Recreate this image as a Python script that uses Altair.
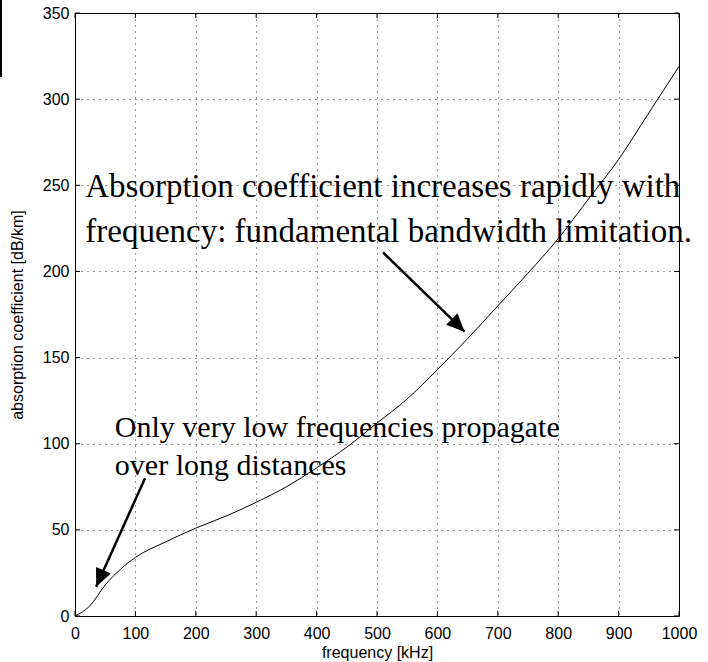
import altair as alt
import pandas as pd

# ---- data ----
freq = [0, 25, 50, 75, 100, 150, 200, 250, 300, 350, 400, 450, 500, 550,
        600, 650, 700, 750, 800, 850, 900, 950, 1000]
absorption = [0, 6, 18, 27, 34, 43, 51, 58, 66, 75, 86, 98, 112, 126,
              143, 161, 180, 199, 219, 242, 265, 292, 319]

x_ticks = [0, 100, 200, 300, 400, 500, 600, 700, 800, 900, 1000]
y_ticks = [0, 50, 100, 150, 200, 250, 300, 350]

note_text = ["Absorption coefficient increases rapidly with",
             "frequency: fundamental bandwidth limitation.",
             "Only very low frequencies propagate",
             "over long distances"]
note_x = [17, 17, 66, 66]
note_y = [243, 217, 104, 82]
note_size = [33, 33, 30, 30]

arrow_x0 = [116, 510]
arrow_y0 = [80, 211]
arrow_x1 = [35, 645]
arrow_y1 = [17, 165]
arrow_angle = [204, 135]

W, H = 604, 603

curve = pd.DataFrame({"f": freq, "a": absorption})
notes = pd.DataFrame({"t": note_text, "f": note_x, "a": note_y, "s": note_size})
arrows = pd.DataFrame({"f": arrow_x0, "a": arrow_y0, "f1": arrow_x1,
                       "a1": arrow_y1, "ang": arrow_angle})
heads_df = pd.DataFrame({"f": arrow_x1, "a": arrow_y1, "ang": arrow_angle})
xt = pd.DataFrame({"f": x_ticks})
yt = pd.DataFrame({"a": y_ticks})

xscale = alt.Scale(domain=[0, 1000], nice=False, zero=False)
yscale = alt.Scale(domain=[0, 350], nice=False, zero=False)

FONT = "Liberation Sans"
SERIF = "Liberation Serif"

x_axis = alt.Axis(values=x_ticks, format="d", grid=True, gridDash=[1, 5],
                  gridColor="#000", gridOpacity=0.8, gridWidth=1, tickSize=0,
                  labelPadding=9, labelFont=FONT, labelFontSize=16,
                  labelColor="black", labelFlush=False, labelOverlap=False,
                  labelBound=False, domain=False, title="frequency [kHz]",
                  titleFont=FONT, titleFontSize=16, titleFontWeight="normal",
                  titleColor="black", titleY=41, titleBaseline="alphabetic")
y_axis = alt.Axis(values=y_ticks, format="d", grid=True, gridDash=[1, 5],
                  gridColor="#000", gridOpacity=0.8, gridWidth=1, tickSize=0,
                  labelPadding=6, labelFont=FONT, labelFontSize=16,
                  labelColor="black", labelFlush=False, labelOverlap=False,
                  labelBound=False, labelBaseline="middle",
                  domain=False, title="absorption coefficient [dB/km]",
                  titleFont=FONT, titleFontSize=16, titleFontWeight="normal",
                  titleColor="black", titleX=-58, titleY=H / 2, titleAngle=270,
                  titleAlign="center", titleBaseline="middle")


def X(field="f"):
    return alt.X(f"{field}:Q", scale=xscale, axis=x_axis)


def Y(field="a"):
    return alt.Y(f"{field}:Q", scale=yscale, axis=y_axis)


line = alt.Chart(curve).mark_line(color="black", strokeWidth=1,
                                  interpolate="monotone").encode(x=X(), y=Y())

tick_bottom = alt.Chart(xt).mark_rule(color="black", strokeWidth=1).encode(
    x=X(), y=alt.value(H), y2=alt.value(H - 5))
tick_top = alt.Chart(xt).mark_rule(color="black", strokeWidth=1).encode(
    x=X(), y=alt.value(0), y2=alt.value(5))
tick_left = alt.Chart(yt).mark_rule(color="black", strokeWidth=1).encode(
    y=Y(), x=alt.value(0), x2=alt.value(5))
tick_right = alt.Chart(yt).mark_rule(color="black", strokeWidth=1).encode(
    y=Y(), x=alt.value(W), x2=alt.value(W - 5))

shafts = alt.Chart(arrows).mark_rule(color="black", strokeWidth=2.5).encode(
    x=X(), x2="f1:Q", y=Y(), y2="a1:Q")

heads = alt.Chart(heads_df).mark_point(
    shape="M0,0 L-0.45,1 L0.45,1 Z", filled=True, color="black", opacity=1,
    strokeWidth=0, size=1300).encode(
    x=X(), y=Y(), angle=alt.Angle("ang:Q", scale=None))

texts = alt.Chart(notes).mark_text(font=SERIF, align="left", baseline="alphabetic",
                                   color="black").encode(
    x=X(), y=Y(), text="t:N", size=alt.Size("s:Q", scale=None))

edge_bar = alt.Chart(curve).mark_rule(color="black", strokeWidth=2).encode(
    x=alt.value(-74), y=alt.value(-13), y2=alt.value(64))

chart = alt.layer(line, tick_bottom, tick_top, tick_left, tick_right,
                  texts, shafts, heads, edge_bar).properties(
    width=W, height=H,
    autosize=alt.AutoSizeParams(type="none"),
    padding={"left": 75, "top": 13, "right": 29, "bottom": 46},
    background="white",
).configure_view(stroke="black", strokeWidth=1)

chart.save("out.html", embed_options={"renderer": "svg", "actions": False})
